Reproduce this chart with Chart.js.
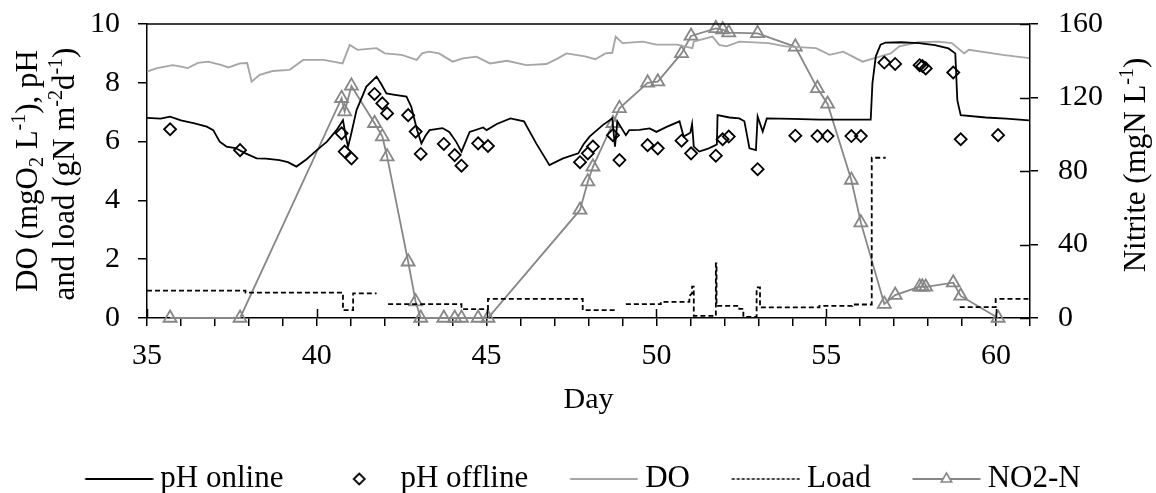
<!DOCTYPE html>
<html>
<head>
<meta charset="utf-8">
<title>pH, DO, load and nitrite</title>
<script src="https://cdn.jsdelivr.net/npm/chart.js@4.4.1/dist/chart.umd.min.js"></script>
<style>
  html, body { margin: 0; padding: 0; background: #fff; }
  #wrap { width: 1156px; height: 493px; }
</style>
</head>
<body>
<div id="wrap"><canvas id="chart" width="1156" height="493"></canvas></div>
<script>
// pH online (continuous probe)
const phOnlineDays = [35.0, 35.4, 35.68, 36.0, 36.4, 36.76, 36.95, 37.14, 37.34, 37.6, 37.9, 38.23, 38.5, 38.9, 39.15, 39.4, 39.7, 40.0, 40.3, 40.58,
  40.77, 40.85, 40.92, 41.0, 41.17, 41.46, 41.76, 41.9, 42.05, 42.25, 42.64, 42.78, 42.95, 43.08, 43.2, 43.32, 43.7, 43.9, 44.1, 44.26,
  44.5, 44.9, 45.0, 45.3, 45.7, 46.1, 46.46, 46.85, 47.25, 47.7, 47.85, 48.03, 48.42, 48.7, 48.78, 48.85, 49.1, 49.2, 49.5, 49.8,
  50.0, 50.3, 50.68, 50.8, 51.0, 51.05, 51.1, 51.26, 51.5, 51.65, 51.78, 51.8, 52.15, 52.44, 52.59, 52.74, 52.93, 52.98, 53.13, 53.25,
  54.0, 54.8, 55.5, 56.31, 56.36, 56.46, 56.6, 56.75, 57.2, 57.73, 58.2, 58.6, 58.8, 58.86, 58.9, 58.96, 59.7, 60.3, 60.97];
const phOnline = [6.81, 6.78, 6.85, 6.72, 6.62, 6.51, 6.39, 6.0, 5.83, 5.78, 5.6, 5.43, 5.42, 5.37, 5.3, 5.15, 5.4, 5.71, 6.0, 6.39,
  6.73, 6.2, 5.83, 6.2, 7.07, 7.87, 8.21, 7.95, 7.64, 7.6, 7.53, 7.19, 6.4, 5.94, 6.2, 6.39, 6.46, 6.33, 6.0, 5.66,
  6.33, 6.48, 6.39, 6.6, 6.79, 6.69, 5.94, 5.2, 5.43, 5.6, 5.9, 6.17, 6.56, 6.79, 5.83, 6.69, 6.22, 6.39, 6.4, 6.45,
  6.33, 6.5, 6.69, 6.17, 6.3, 6.6, 5.83, 5.66, 5.75, 5.83, 5.9, 6.9, 6.82, 6.79, 6.69, 5.77, 5.71, 6.85, 6.34, 6.79,
  6.77, 6.75, 6.75, 6.75, 7.98, 8.9, 9.3, 9.37, 9.38, 9.35, 9.28, 9.17, 9.0, 7.41, 7.2, 6.9, 6.82, 6.78, 6.72];

// dissolved oxygen
const doDays = [35.0, 35.3, 35.76, 36.0, 36.2, 36.5, 36.8, 37.2, 37.4, 37.74, 37.95, 38.08, 38.32, 38.7, 39.2, 39.6, 40.2, 40.76, 40.97, 41.2,
  41.76, 42.0, 42.5, 42.94, 43.1, 43.3, 43.6, 44.0, 44.3, 44.7, 45.1, 45.6, 46.17, 46.76, 47.1, 47.35, 47.9, 48.2, 48.5, 48.7,
  48.8, 49.0, 49.6, 50.0, 50.6, 51.06, 51.1, 51.65, 51.85, 52.06, 52.44, 53.3, 53.8, 54.7, 55.1, 55.5, 56.07, 56.6, 56.9, 57.15,
  57.7, 58.3, 58.7, 59.06, 59.2, 60.2, 60.97];
const doValues = [8.38, 8.5, 8.6, 8.55, 8.5, 8.68, 8.72, 8.6, 8.52, 8.66, 8.67, 8.04, 8.27, 8.4, 8.44, 8.78, 8.78, 8.66, 9.29, 9.12,
  9.18, 9.0, 8.95, 8.78, 9.0, 9.06, 9.0, 8.72, 8.83, 8.89, 8.66, 8.75, 8.6, 8.64, 8.83, 9.0, 8.9, 8.8, 9.0, 9.02,
  9.57, 9.35, 9.4, 9.3, 9.3, 9.18, 9.4, 9.57, 9.29, 9.24, 9.4, 9.35, 9.24, 9.18, 8.95, 9.06, 8.72, 8.9, 9.0, 9.24,
  9.38, 9.4, 9.35, 9.0, 9.12, 8.95, 8.84];

// grab samples: pH offline and nitrite share the sampling days
const sampleDays = [35.68, 37.74, 40.73, 40.82, 41.02, 41.7, 41.93, 42.07, 42.69, 42.91, 43.06, 43.74, 44.06, 44.26, 44.75, 45.04,
  47.75, 47.98, 48.13, 48.72, 48.91, 49.74, 50.04, 50.74, 51.02, 51.75, 51.95, 52.13, 52.98, 54.09, 54.74, 55.04,
  55.74, 56.02, 56.71, 57.03, 57.75, 57.83, 57.93, 58.74, 58.96, 60.06];
const phOffline = [6.42, 5.71, 6.28, 5.66, 5.43, 7.62, 7.3, 6.96, 6.9, 6.34, 5.58, 5.92, 5.54, 5.18, 5.94, 5.85,
  5.3, 5.6, 5.83, 6.22, 5.37, 5.88, 5.77, 6.03, 5.6, 5.52, 6.08, 6.17, 5.06, 6.2, 6.19, 6.19,
  6.19, 6.19, 8.69, 8.64, 8.6, 8.57, 8.49, 8.35, 6.08, 6.22];
const nitrite = [0, 0, 119.6, 112.3, 126.3, 106, 98.7, 87.8, 30.6, 8.9, 0, 0, 0, 0, 0, 0,
  58.8, 74.2, 82.3, 106, 114.1, 128, 128.6, 144, 153.5, 157.6, 157, 155.3, 154.9, 147.6, 125, 116.5,
  75.1, 51.9, 7.6, 12.5, 17, 17, 16.9, 19.2, 12, 0];

// nitrogen load, stepwise (null = no data)
const loadDays = [35.0, 37.9, 37.9, 40.77, 40.77, 41.07, 41.07, 41.76, 41.9, 42.1, 44.26, 44.26, 45.04, 45.04, 47.83, 47.83, 48.8, 48.95,
  49.1, 50.13, 50.13, 50.97, 50.97, 51.05, 51.05, 51.1, 51.1, 51.75, 51.75, 51.77, 51.77, 52.44, 52.44, 52.56, 52.56,
  52.95, 52.95, 53.05, 53.05, 54.8, 54.8, 55.77, 55.77, 56.34, 56.34, 56.75, 57.0, 58.93, 59.99, 59.99, 61.0];
const loadValues = [0.93, 0.93, 0.86, 0.86, 0.27, 0.27, 0.84, 0.84, null, 0.47, 0.47, 0.30, 0.30, 0.65, 0.65, 0.27, 0.27, null,
  0.47, 0.47, 0.55, 0.55, 0.75, 0.84, 1.07, 1.07, 0.07, 0.07, 1.86, 1.86, 0.41, 0.41, 0.31, 0.31, 0.04,
  0.04, 1.04, 1.04, 0.36, 0.36, 0.41, 0.41, 0.46, 0.46, 5.45, 5.45, null, 0.37, 0.37, 0.65, 0.65];

const seriesNames = ['pH online', 'pH offline', 'DO', 'Load', 'NO2-N'];
const dayLabels = [35, 40, 45, 50, 55, 60];
const leftLabels = [0, 2, 4, 6, 8, 10];
const rightLabels = [0, 40, 80, 120, 160];
const leftTitle = [
  [['DO (mgO'], ['2', 'sub'], [' L'], ['-1', 'sup'], ['), pH']],
  [['and load (gN m'], ['-2', 'sup'], ['d'], ['-1', 'sup'], [')']]
];
const rightTitle = [['Nitrite (mgN L'], ['-1', 'sup'], [')']];

const FONT = 'Liberation Serif';
const BLACK = '#000000';
const DO_GREY = '#a6a6a6';
const NO2_GREY = '#878787';

function pts(xs, ys) {
  return xs.map((x, i) => ({ x: x, y: ys[i] }));
}

// legend icons: line sample with marker, drawn on small canvases
function makeIcon(kind) {
  const c = document.createElement('canvas');
  c.width = 87; c.height = 32;
  const g = c.getContext('2d');
  const y = 16, x0 = 18.5, x1 = 86.5, xm = (x0 + x1) / 2;
  g.lineWidth = 1.8;
  if (kind === 'line' || kind === 'grey' || kind === 'tri') {
    g.strokeStyle = kind === 'line' ? BLACK : (kind === 'grey' ? DO_GREY : NO2_GREY);
    g.beginPath(); g.moveTo(x0, y); g.lineTo(x1, y); g.stroke();
  }
  if (kind === 'dash') {
    g.strokeStyle = BLACK; g.lineWidth = 1.6; g.setLineDash([3, 2]);
    g.beginPath(); g.moveTo(x0, y); g.lineTo(x1, y); g.stroke();
  }
  if (kind === 'diamond') {
    const r = 5.5;
    g.strokeStyle = BLACK; g.lineWidth = 1.8;
    g.beginPath(); g.moveTo(xm - r, y); g.lineTo(xm, y - r); g.lineTo(xm + r, y); g.lineTo(xm, y + r); g.closePath(); g.stroke();
  }
  if (kind === 'tri') {
    const r = 6;
    g.fillStyle = '#fff'; g.strokeStyle = NO2_GREY; g.lineWidth = 1.6;
    g.beginPath();
    g.moveTo(xm, y - r);
    g.lineTo(xm + r * 0.866, y + r / 2);
    g.lineTo(xm - r * 0.866, y + r / 2);
    g.closePath(); g.fill(); g.stroke();
  }
  return c;
}
const legendIcons = [makeIcon('line'), makeIcon('diamond'), makeIcon('grey'), makeIcon('dash'), makeIcon('tri')];

// text with sub/superscripts, rotated to read bottom-to-top
function drawRich(ctx, parts, cx, cy, size) {
  const fontN = size + 'px "' + FONT + '"';
  const fontS = Math.round(size * 0.63) + 'px "' + FONT + '"';
  let total = 0;
  parts.forEach(p => { ctx.font = p[1] ? fontS : fontN; total += ctx.measureText(p[0]).width; });
  ctx.save();
  ctx.translate(cx, cy);
  ctx.rotate(-Math.PI / 2);
  ctx.textAlign = 'left';
  ctx.textBaseline = 'alphabetic';
  ctx.fillStyle = BLACK;
  let x = -total / 2;
  const base = size * 0.34;
  parts.forEach(p => {
    ctx.font = p[1] ? fontS : fontN;
    const dy = p[1] === 'sub' ? size * 0.2 : (p[1] === 'sup' ? -size * 0.38 : 0);
    ctx.fillText(p[0], x, base + dy);
    x += ctx.measureText(p[0]).width;
  });
  ctx.restore();
}

// the legend box is taller than the row it holds; trim it so the row sits at the bottom
const LEGEND_HEIGHT = 61.5;
const legendFit = {
  id: 'legendFit',
  beforeUpdate(chart) {
    const lg = chart.legend;
    if (lg && !lg._trimmed) {
      const fit = lg.fit.bind(lg);
      lg.fit = function () { fit(); this.height = LEGEND_HEIGHT; };
      lg._trimmed = true;
    }
  }
};

const framePlugin = {
  id: 'frame',
  afterDraw(chart) {
    const { ctx, chartArea: a, scales } = chart;
    ctx.save();
    ctx.strokeStyle = BLACK;
    ctx.lineWidth = 1.5;
    ctx.beginPath();
    ctx.moveTo(a.left, a.top); ctx.lineTo(a.right, a.top);
    // labelled ticks cross into the plot
    dayLabels.forEach(d => {
      const px = Math.round(scales.x.getPixelForValue(d)) + 0.5;
      ctx.moveTo(px, a.bottom); ctx.lineTo(px, a.bottom - 9);
    });
    rightLabels.forEach(v => {
      const py = Math.round(scales.y2.getPixelForValue(v)) + 0.5;
      ctx.moveTo(a.right - 10, py); ctx.lineTo(a.right, py);
    });
    ctx.stroke();
    ctx.restore();

    const midY = (a.top + a.bottom) / 2;
    drawRich(ctx, leftTitle[0], a.left - 121, midY, 31);
    drawRich(ctx, leftTitle[1], a.left - 84, midY + 3, 31);
    drawRich(ctx, rightTitle, a.right + 104, midY - 6, 31);
  }
};

const tickFont = { family: FONT, size: 30 };

// keep the y axes from reserving extra room above the plot for their labels
function sideFit(width) {
  return s => { s.width = width; s.paddingTop = 0; s.paddingBottom = 0; };
}

const chart = new Chart(document.getElementById('chart'), {
  type: 'line',
  data: {
    datasets: [
      {
        label: seriesNames[0],
        data: pts(phOnlineDays, phOnline),
        yAxisID: 'y',
        borderColor: BLACK,
        borderWidth: 1.8,
        pointRadius: 0,
        tension: 0
      },
      {
        label: seriesNames[1],
        data: pts(sampleDays, phOffline),
        yAxisID: 'y',
        showLine: false,
        pointStyle: 'rectRot',
        pointRadius: 6,
        pointBorderWidth: 1.8,
        pointBorderColor: BLACK,
        pointBackgroundColor: 'rgba(255,255,255,0)',
        clip: false
      },
      {
        label: seriesNames[2],
        data: pts(doDays, doValues),
        yAxisID: 'y',
        borderColor: DO_GREY,
        borderWidth: 1.9,
        pointRadius: 0,
        tension: 0
      },
      {
        label: seriesNames[3],
        data: pts(loadDays, loadValues),
        yAxisID: 'y',
        borderColor: BLACK,
        borderWidth: 1.8,
        borderDash: [5, 3],
        pointRadius: 0,
        spanGaps: false,
        clip: false
      },
      {
        label: seriesNames[4],
        data: pts(sampleDays, nitrite),
        yAxisID: 'y2',
        borderColor: NO2_GREY,
        borderWidth: 1.8,
        pointStyle: 'triangle',
        pointRadius: 7.5,
        pointBorderWidth: 1.8,
        pointBorderColor: NO2_GREY,
        pointBackgroundColor: 'rgba(255,255,255,0)',
        clip: false
      }
    ]
  },
  options: {
    responsive: false,
    animation: false,
    events: [],
    layout: { padding: { top: 24, left: 0, right: 0, bottom: 0 } },
    plugins: {
      tooltip: { enabled: false },
      legend: {
        position: 'bottom',
        labels: {
          usePointStyle: true,
          pointStyleWidth: 69.5,
          padding: 32,
          color: BLACK,
          font: { family: FONT, size: 31 },
          generateLabels: () => seriesNames.map((name, i) => ({
            text: name,
            pointStyle: legendIcons[i],
            datasetIndex: i,
            hidden: false,
            fillStyle: 'rgba(0,0,0,0)',
            strokeStyle: 'rgba(0,0,0,0)',
            lineWidth: 0,
            fontColor: BLACK
          }))
        }
      }
    },
    scales: {
      x: {
        type: 'linear',
        min: 35,
        max: 61,
        ticks: {
          stepSize: 1,
          autoSkip: false,
          maxRotation: 0,
          padding: 12,
          color: BLACK,
          font: tickFont,
          callback: v => dayLabels.includes(v) ? String(v) : ''
        },
        grid: { drawOnChartArea: false, tickLength: 8, color: BLACK, tickColor: BLACK, lineWidth: 1.5 },
        border: { color: BLACK, width: 1.5 },
        title: { display: true, text: 'Day', color: BLACK, font: tickFont, padding: { top: 0, bottom: 13.5 } },
        afterFit: s => { s.height = 113.5; }
      },
      y: {
        position: 'left',
        min: 0,
        max: 10,
        ticks: {
          stepSize: 1,
          padding: 18,
          color: BLACK,
          font: tickFont,
          callback: v => leftLabels.includes(v) ? String(v) : ''
        },
        grid: { drawOnChartArea: false, tickLength: 9, color: BLACK, tickColor: BLACK, lineWidth: 1.5 },
        border: { color: BLACK, width: 1.5 },
        afterFit: sideFit(147)
      },
      y2: {
        position: 'right',
        min: 0,
        max: 160,
        ticks: {
          stepSize: 20,
          padding: 20,
          color: BLACK,
          font: tickFont,
          callback: v => rightLabels.includes(v) ? String(v) : ''
        },
        grid: { drawOnChartArea: false, tickLength: 8, color: BLACK, tickColor: BLACK, lineWidth: 1.5 },
        border: { color: BLACK, width: 1.5 },
        afterFit: sideFit(126)
      }
    }
  },
  plugins: [legendFit, framePlugin]
});
</script>
</body>
</html>
